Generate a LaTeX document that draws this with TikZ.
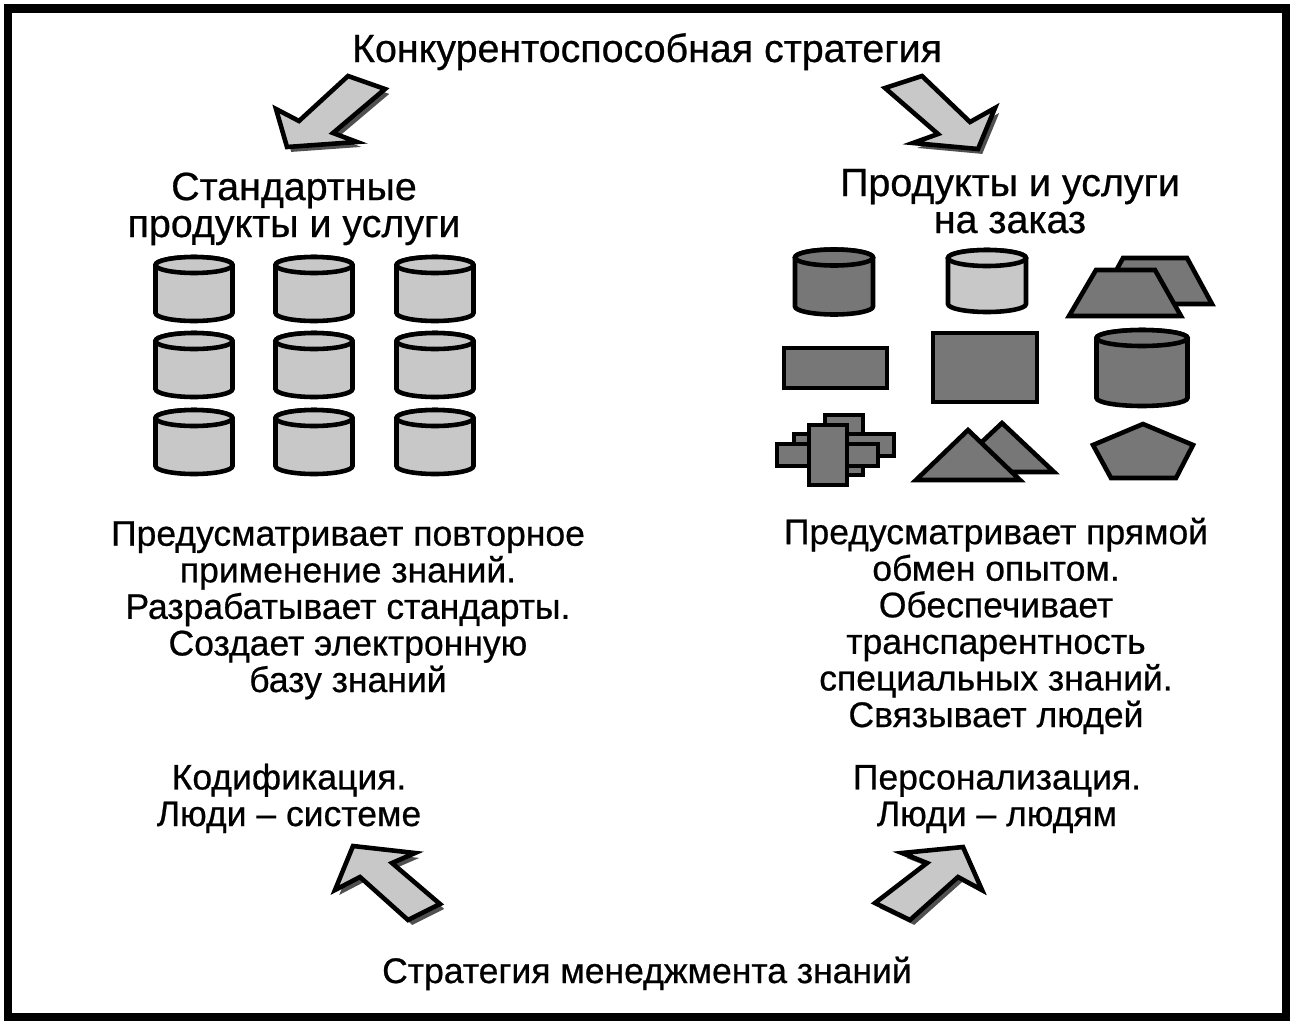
\documentclass[tikz,border=0pt]{standalone}
\usepackage{fontspec}
\setmainfont{Liberation Sans}[FakeBold=0.6]
\usetikzlibrary{shadows,positioning}
\definecolor{lightfill}{HTML}{C8C8C8}
\definecolor{darkfill}{HTML}{777777}
\definecolor{shadowgray}{HTML}{505050}

\begin{document}
\begin{tikzpicture}[
    x=0.01cm, y=-0.01cm,
    every node/.style={inner sep=0pt},
    heading/.style={anchor=base, align=center, font=\fontsize{11.2}{10.5}\selectfont},
    bodytext/.style={anchor=base, align=center, font=\fontsize{10.1}{10.4}\selectfont},
    lightpart/.style={draw=black, line width=1.3pt, fill=lightfill},
    darkpart/.style={draw=black, line width=1.3pt, fill=darkfill, line join=miter},
    blockarrow/.style={draw=black, line width=1.3pt, fill=lightfill, line join=miter,
        drop shadow={shadow xshift=1.2pt, shadow yshift=-1.4pt, fill=shadowgray, opacity=1}},
    % drum: half width / half height, in px
    pics/drum/.style n args={2}{code={
        \path[pic actions] (-#1,-#2+8) -- (-#1,#2-8)
            arc[start angle=180, end angle=0, x radius=#1, y radius=8]
            -- (#1,-#2+8) arc[start angle=0, end angle=-180, x radius=#1, y radius=8] -- cycle;
        \path[pic actions] (0,-#2+8) ellipse [x radius=#1, y radius=8];
    }}
]
\useasboundingbox (0,0) rectangle (1294,1024);

% === Frame ===
\draw[line width=2.3pt] (8,8.5) rectangle (1286,1017);

% === Top: competitive strategy ===
\node[heading] (compet) at (647,62) {Конкурентоспособная стратегия};

\draw[blockarrow] (348,76) -- (385,89) -- (333,133) -- (357,142) -- (287,147) -- (276,109) -- (299,121) -- cycle;
\draw[blockarrow] (885,88) -- (922,76) -- (970,122) -- (995,108) -- (978,149) -- (913,143) -- (938,134) -- cycle;

% === Left: standard products ===
\node[heading] (stdtitle) at (294,237) {Стандартные\\продукты и услуги};

\pic[lightpart] (c11) at (194,289) {drum={38.5}{32}};
\pic[lightpart] (c12) at (314,289) {drum={38.5}{32}};
\pic[lightpart] (c13) at (435,289) {drum={38.5}{32}};
\pic[lightpart] (c21) at (194,365) {drum={38.5}{32}};
\pic[lightpart] (c22) at (314,365) {drum={38.5}{32}};
\pic[lightpart] (c23) at (435,365) {drum={38.5}{32}};
\pic[lightpart] (c31) at (194,442) {drum={38.5}{32}};
\pic[lightpart] (c32) at (314,442) {drum={38.5}{32}};
\pic[lightpart] (c33) at (435,442) {drum={38.5}{32}};

\node[bodytext] (stdtext) at (348,692) {Предусматривает повторное\\применение знаний.\\Разрабатывает стандарты.\\Создает электронную\\базу знаний};

% === Right: custom products ===
\node[heading] (ordtitle) at (1010,233) {Продукты и услуги\\на заказ};

\pic[darkpart] (d1) at (834,282) {drum={39}{32.5}};
\pic[lightpart] (d2) at (987,281) {drum={39}{31}};
% trapezia
\draw[darkpart] (1123,258) -- (1187,258) -- (1212,304) -- (1098,304) -- cycle;
\draw[darkpart] (1096,270) -- (1155,270) -- (1181,316) -- (1069,316) -- cycle;
% rectangles
\draw[darkpart] (784,348) rectangle (887,388);
\draw[darkpart] (933,333) rectangle (1037,402);
\pic[darkpart] (d3) at (1142,368) {drum={45.5}{38}};
% crossed bars
\draw[darkpart] (825,415) rectangle (863,475);
\draw[darkpart] (794,434) rectangle (894,456);
\draw[darkpart] (777,444) rectangle (878,466);
\draw[darkpart] (809,425) rectangle (847,485);
% triangles
\draw[darkpart] (1002,423) -- (1054,472) -- (950,472) -- cycle;
\draw[darkpart] (968,430) -- (1020,480) -- (916,480) -- cycle;
% pentagon
\draw[darkpart] (1143,424) -- (1193,445) -- (1176,478) -- (1111,478) -- (1093,445) -- cycle;

\node[bodytext] (ordtext) at (996,727) {Предусматривает прямой\\обмен опытом.\\Обеспечивает\\транспарентность\\специальных знаний.\\Связывает людей};

% === Bottom: knowledge management ===
\node[bodytext] (codif) at (289,826) {Кодификация.\\Люди – системе};
\node[bodytext] (person) at (997,826) {Персонализация.\\Люди – людям};

\draw[blockarrow] (353,846) -- (415,853) -- (392,863) -- (440,904) -- (408,920) -- (360,877) -- (335,890) -- cycle;
\draw[blockarrow] (963,847) -- (982,890) -- (958,877) -- (910,920) -- (875,903) -- (927,863) -- (902,853) -- cycle;

\node[bodytext] (kmstrat) at (647,983) {Стратегия менеджмента знаний};

\end{tikzpicture}
\end{document}
